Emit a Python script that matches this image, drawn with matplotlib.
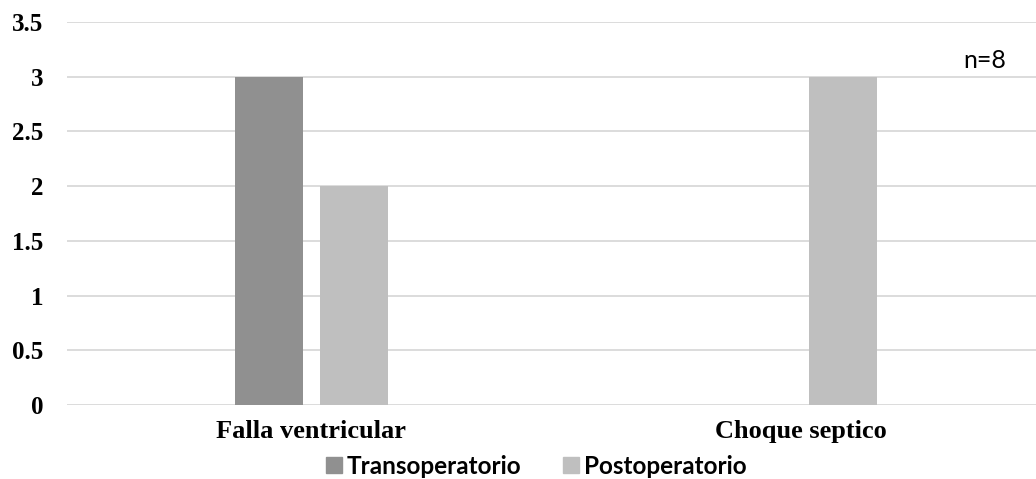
import numpy as np
import matplotlib
matplotlib.use("Agg")
from matplotlib import pyplot as plt
from matplotlib.patches import Patch

categorias = ["Falla ventricular", "Choque septico"]
series = ["Transoperatorio", "Postoperatorio"]
transoperatorio = [3, 0]
postoperatorio = [2, 3]
colores = ["#909090", "#bfbfbf"]

fig = plt.figure(figsize=(10.36, 4.79), dpi=100)
# el area de trazado sobresale un poco por la derecha
ax = fig.add_axes([67/1036, 1-405/479, (1045-67)/1036, (405-22)/479])

x = np.arange(len(categorias))
ancho = 0.139
desp = 0.087
ax.bar(x - desp, transoperatorio, ancho, color=colores[0], zorder=3)
ax.bar(x + desp, postoperatorio, ancho, color=colores[1], zorder=3)

ax.set_xlim(-0.5, 1.5)
ax.set_ylim(0, 3.5)
ax.set_yticks(np.arange(0, 3.51, 0.5))
ax.set_yticklabels(["0", "0.5", "1", "1.5", "2", "2.5", "3", "3.5"])
ax.yaxis.grid(True, color="#d9d9d9", linewidth=1.3, zorder=0)
ax.set_xticks(x)
ax.set_xticklabels(categorias)
for s in ax.spines.values():
    s.set_visible(False)
ax.tick_params(length=0)
ax.tick_params(axis="y", pad=17)
ax.tick_params(axis="x", pad=11)
for lab in ax.get_yticklabels():
    lab.set_fontfamily("Liberation Serif")
    lab.set_fontweight("bold")
    lab.set_fontsize(18)
for lab in ax.get_xticklabels():
    lab.set_fontfamily("Liberation Serif")
    lab.set_fontweight("bold")
    lab.set_fontsize(19)

fig.text(985/1036, 1-61/479, "n=8", fontsize=18, family="Lato", ha="center", va="center")

handles = [Patch(color=c) for c in colores]
fig.legend(handles, series, loc="center", bbox_to_anchor=(536/1036, 1-466/479), ncol=2,
           frameon=False, handlelength=0.66, handleheight=0.66, handletextpad=0.2,
           columnspacing=1.7, borderpad=0, prop={"family": "Lato", "weight": "bold", "size": 17.5})

fig.savefig("out.png", dpi=100)
